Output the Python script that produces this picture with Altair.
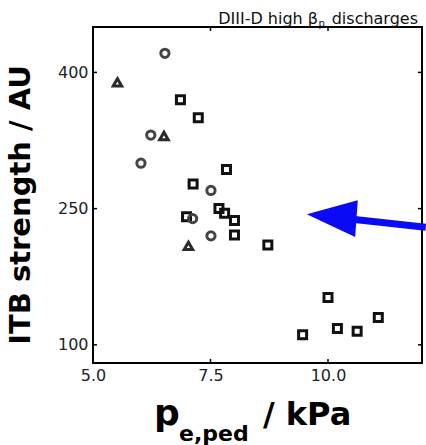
import altair as alt
import pandas as pd

# ---- data ----
sq_x = [6.86, 7.24, 7.84, 7.13, 7.68, 7.80, 8.01, 6.99, 8.01, 8.72, 10.0, 9.46, 10.2, 10.62, 11.07]
sq_y = [370, 350, 293, 277, 250, 245, 237, 241, 221, 210, 152, 111, 118, 115, 130]
circ_x = [6.53, 6.23, 6.02, 7.51, 7.12, 7.51]
circ_y = [421, 331, 300, 270, 239, 220]
tri_x = [5.52, 6.51, 7.03]
tri_y = [389, 330, 209]

x_ticks = [5.0, 7.5, 10.0]
y_ticks = [100, 250, 400]
x_inner_ticks = [7.5, 10.0]

# arrow annotation (data coords)
arrow_shaft_x = [10.47, 12.08]
arrow_shaft_y = [238.5, 229.5]
arrow_head_x = [10.08]
arrow_head_y = [241.5]

W, H = 329, 336

df = pd.DataFrame({
    "p": sq_x + circ_x + tri_x,
    "itb": sq_y + circ_y + tri_y,
    "kind": ["square"] * len(sq_x) + ["circle"] * len(circ_x) + ["triangle"] * len(tri_x),
})

xs = alt.Scale(domain=[5, 12], nice=False, zero=False)
ys = alt.Scale(domain=[80, 450], nice=False, zero=False)
kinds = ["square", "circle", "triangle"]

base = alt.Chart(df)

points = base.mark_point(filled=False, opacity=1).encode(
    x=alt.X("p:Q", scale=xs,
            axis=alt.Axis(values=x_ticks, format=".1f", title=None, ticks=False, domain=False,
                          grid=False, labelFontSize=16, labelColor="#222", labelPadding=4,
                          labelFlush=False, labelFont="DejaVu Sans")),
    y=alt.Y("itb:Q", scale=ys,
            axis=alt.Axis(values=y_ticks, title=None, ticks=False, domain=False, grid=False,
                          labelFontSize=16, labelColor="#222", labelPadding=5,
                          labelFlush=False, labelFont="DejaVu Sans")),
    shape=alt.Shape("kind:N", scale=alt.Scale(domain=kinds,
                                               range=["square", "circle", "triangle-up"]), legend=None),
    color=alt.Color("kind:N", scale=alt.Scale(domain=kinds,
                                               range=["#111111", "#444444", "#2a2a2a"]), legend=None),
    size=alt.Size("kind:N", scale=alt.Scale(domain=kinds, range=[64, 72, 72]), legend=None),
    strokeWidth=alt.StrokeWidth("kind:N", scale=alt.Scale(domain=kinds, range=[3, 3, 3.8]),
                                legend=None),
)

shaft_df = pd.DataFrame({"x": [arrow_shaft_x[0]], "y": [arrow_shaft_y[0]],
                         "x2": [arrow_shaft_x[1]], "y2": [arrow_shaft_y[1]]})
shaft = alt.Chart(shaft_df).mark_rule(color="#0a0af5", strokeWidth=7).encode(
    x=alt.X("x:Q", scale=xs), y=alt.Y("y:Q", scale=ys), x2="x2:Q", y2="y2:Q")

head_df = pd.DataFrame({"x": arrow_head_x, "y": arrow_head_y})
head = alt.Chart(head_df).mark_point(
    shape="M -0.96 -0.08 L 1 -0.62 L 0.9 0.79 Z", filled=True, size=2704,
    color="#0a0af5", opacity=1, strokeWidth=0).encode(
    x=alt.X("x:Q", scale=xs), y=alt.Y("y:Q", scale=ys))

# inward frame ticks
xt = pd.DataFrame({"t": x_inner_ticks})
yt = pd.DataFrame({"t": y_ticks})
tick_top = alt.Chart(xt).mark_rule(color="black", strokeWidth=1.5).encode(
    x=alt.X("t:Q", scale=xs), y=alt.value(0), y2=alt.value(4))
tick_bot = alt.Chart(xt).mark_rule(color="black", strokeWidth=1.5).encode(
    x=alt.X("t:Q", scale=xs), y=alt.value(H), y2=alt.value(H - 4))
tick_left = alt.Chart(yt).mark_rule(color="black", strokeWidth=1.5).encode(
    y=alt.Y("t:Q", scale=ys), x=alt.value(0), x2=alt.value(4))
tick_right = alt.Chart(yt).mark_rule(color="black", strokeWidth=1.5).encode(
    y=alt.Y("t:Q", scale=ys), x=alt.value(W), x2=alt.value(W - 4))

one = pd.DataFrame({"a": [0]})

def txt(text, x, y, size, bold=True, align="left", angle=0, font="DejaVu Sans", color="black"):
    kw = dict(text=text, fontSize=size, fontWeight="bold" if bold else "normal", align=align,
              baseline="alphabetic", font=font, color=color)
    if angle:
        kw["angle"] = angle
        kw["baseline"] = "middle"
    return alt.Chart(one).mark_text(**kw).encode(x=alt.value(x), y=alt.value(y))

titles = [
    txt("ITB strength / AU", -72, 178, 29, align="center", angle=270),
    txt("p", 61, 398, 36),
    txt("e,ped", 86, 414, 22),
    txt("/ kPa", 170, 398, 32),
    txt("DIII-D high \u03b2", 225, -3, 16, bold=False, align="right", color="#111"),
    txt("p", 225.5, -0.5, 10, bold=False, color="#111"),
    txt("discharges", 325, -3, 16, bold=False, align="right", color="#111"),
]

chart = alt.layer(tick_top, tick_bot, tick_left, tick_right, points, shaft, head, *titles).properties(
    width=W, height=H,
    autosize=alt.AutoSizeParams(type="none"),
    padding={"left": 93, "top": 27, "right": 4, "bottom": 82},
).configure(background="white", view=alt.ViewConfig(stroke="black", strokeWidth=2))

chart.save("out.html", embed_options={"renderer": "svg", "actions": False})
